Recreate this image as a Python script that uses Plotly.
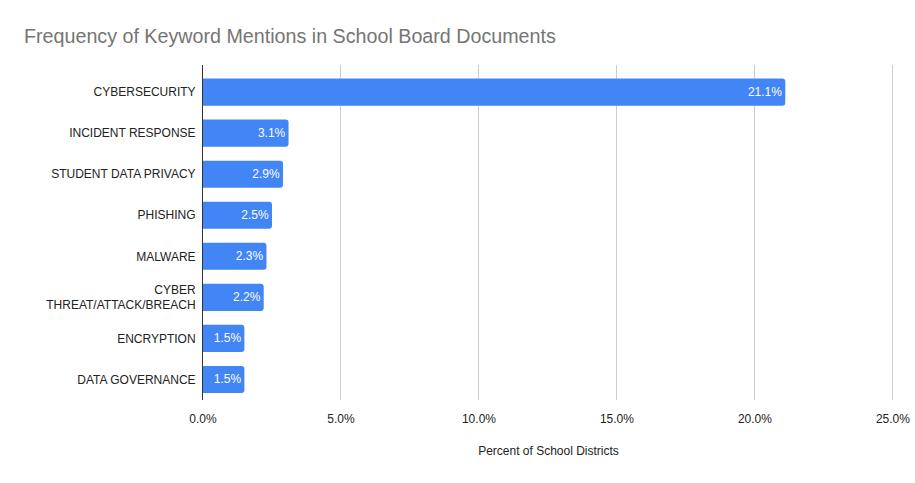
import plotly.graph_objects as go

categories = ["CYBERSECURITY", "INCIDENT RESPONSE", "STUDENT DATA PRIVACY", "PHISHING",
              "MALWARE", "CYBER<br>THREAT/ATTACK/BREACH", "ENCRYPTION", "DATA GOVERNANCE"]
values = [21.1, 3.1, 2.9, 2.5, 2.3, 2.2, 1.5, 1.5]
tick_vals = [0, 5, 10, 15, 20, 25]
tick_text = ["0.0%", "5.0%", "10.0%", "15.0%", "20.0%", "25.0%"]

FONT = "Arial, Liberation Sans, sans-serif"

fig = go.Figure(go.Bar(
    x=values, y=categories, orientation="h",
    marker=dict(color="#4285F4", cornerradius=3, line=dict(width=0)),
    width=0.66,
    text=[f"{v:.1f}%" for v in values],
    textposition="inside", insidetextanchor="end",
    textfont=dict(color="white", size=12, family=FONT),
    constraintext="none",
    cliponaxis=False,
))

fig.update_layout(
    width=915, height=483,
    margin=dict(l=203, r=21, t=65, b=83, autoexpand=False),
    paper_bgcolor="white", plot_bgcolor="white",
    font=dict(family=FONT, size=12, color="#222222"),
    title=dict(text="Frequency of Keyword Mentions in School Board Documents",
               x=24/915, xanchor="left", y=1-36/483, yanchor="middle",
               font=dict(size=19.7, color="#757575", family=FONT)),
    showlegend=False,
    xaxis=dict(range=[0, 25.04], tickvals=tick_vals, ticktext=tick_text,
               showgrid=True, gridcolor="#cccccc", gridwidth=1,
               zeroline=False, showline=False, ticks="",
               ticklabelstandoff=10, automargin=False,
               tickfont=dict(size=12, color="#222222"),
               title=dict(text="Percent of School Districts", standoff=21,
                          font=dict(size=12, color="#222222"))),
    yaxis=dict(categoryorder="array", categoryarray=categories,
               range=[7.5, -0.66], showgrid=False, zeroline=False,
               showline=True, linecolor="#333333", linewidth=1,
               ticks="", ticklabelstandoff=4, automargin=False,
               tickfont=dict(size=12, color="#222222")),
)

fig.write_html("out.html", config={"displayModeBar": False},
               post_script="document.body.style.margin='0';")
